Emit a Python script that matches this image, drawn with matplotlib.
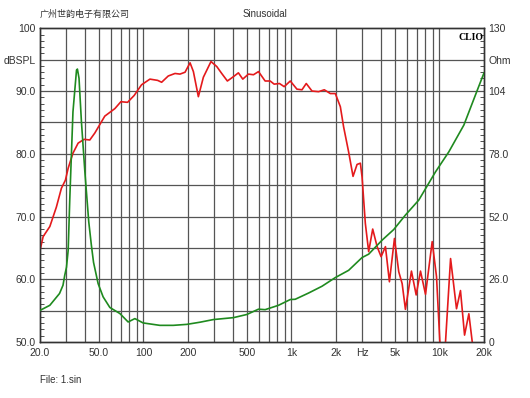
import numpy as np
import matplotlib
matplotlib.use('Agg')
import matplotlib.pyplot as plt
from matplotlib.ticker import FixedLocator, MultipleLocator, NullFormatter

# SPL response (red), dB
spl_freq = [20, 21, 23.3, 25.8, 27.9, 29.7, 31.0, 33.4, 36.2, 39.7, 43.4, 46.9,
            54.8, 64.1, 70.4, 78.1, 86.6, 97.1, 110.6, 124.7, 132.7, 147.1, 163.4,
            176.6, 191, 206.5, 217.5, 235, 254, 286, 313, 338, 369, 406, 438, 469,
            512, 554, 599, 664, 718, 764, 830, 893, 982, 1089, 1178, 1259, 1377,
            1525, 1667, 1831, 1979, 2140, 2251, 2434, 2607, 2775, 2922, 3000, 3157,
            3325, 3540, 3792, 4034, 4316, 4592, 4966, 5309, 5598, 5890, 6469, 6962,
            7446, 8051, 8931, 9555, 10050, 10550, 10990, 11890, 13040, 13870, 14780,
            15800, 16660, 17300]
spl_db = [64.6, 66.8, 68.4, 71.5, 74.5, 75.8, 77.7, 80.1, 81.7, 82.3, 82.2, 83.3,
          86.0, 87.2, 88.3, 88.2, 89.3, 91.0, 91.9, 91.7, 91.4, 92.4, 92.8,
          92.7, 93.0, 94.5, 93.1, 89.1, 92.2, 94.7, 93.9, 92.8, 91.6, 92.3, 92.9, 91.9,
          92.7, 92.6, 93.1, 91.6, 91.6, 91.1, 91.2, 90.7, 91.6, 90.3, 90.2, 91.2, 90.0,
          89.9, 90.2, 89.6, 89.6, 87.5, 84.3, 80.3, 76.4, 78.3, 78.5, 76.3, 68.9,
          64.4, 68.0, 65.2, 63.6, 65.2, 59.6, 66.5, 61.2, 59.3, 55.2, 61.3, 57.5,
          61.3, 57.6, 66.0, 60.4, 50.3, 46.0, 50.0, 63.3, 55.3, 58.2, 51.1,
          54.5, 50.0, 47.0]

# impedance (green), Ohm
imp_freq = [20, 23.3, 27.1, 28.6, 29.4, 30.2, 31.0, 31.8, 33.4, 35.3, 35.8, 36.7,
            38.1, 40.2, 42.7, 44.5, 46.0, 49.4, 53.4, 59.3, 69.3, 78.8, 87.5, 99.5,
            129, 159, 196, 241, 297, 406, 499, 599, 664, 817, 982, 1060, 1306, 1608,
            1979, 2434, 3000, 3325, 4096, 4909, 5890, 7248, 9404, 11570, 14620,
            18030, 20000]
imp_ohm = [13.1, 15.2, 20.1, 23.5, 27.7, 31.0, 38.0, 59.5, 95.4, 112.7, 113.1, 109.3,
           91.3, 70.5, 49.8, 40.0, 33.0, 24.2, 18.7, 14.3, 11.8, 8.3, 9.7, 7.9,
           6.9, 6.9, 7.3, 8.2, 9.3, 10.1, 11.4, 13.6, 13.4, 15.2, 17.6, 17.7, 20.3, 23.1,
           26.7, 29.7, 35.0, 36.4, 42.2, 46.6, 52.6, 58.8, 70.5, 78.8, 89.9,
           104.4, 111.5]

xtick_vals = [20, 50, 100, 200, 500, 1000, 2000, 3000, 5000, 10000, 20000]
xtick_labels = ['20.0', '50.0', '100', '200', '500', '1k', '2k', 'Hz', '5k', '10k', '20k']
ltick_vals = [50, 60, 70, 80, 90, 95, 100]
ltick_labels = ['50.0', '60.0', '70.0', '80.0', '90.0', 'dBSPL', '100']
rtick_vals = [0, 26, 52, 78, 104, 117, 130]
rtick_labels = ['0', '26.0', '52.0', '78.0', '104', 'Ohm', '130']

plt.rcParams['font.family'] = ['Liberation Sans', 'DejaVu Sans']
txt_col = '#333333'
grid_col = '#555555'

fig = plt.figure(figsize=(5.3, 3.98), dpi=100)
ax = fig.add_axes([40/530, 1-342/398, 444/530, 313.7/398])
ax.set_xscale('log')
ax.set_xlim(20, 20000)
ax.set_ylim(50, 100)

# grid
vlines = list(range(30, 100, 10)) + list(range(100, 1000, 100)) + \
    list(range(1000, 10000, 1000)) + [10000]
for v in vlines:
    ax.axvline(v, color=grid_col, lw=0.9, zorder=1)
for h in range(55, 100, 5):
    ax.axhline(h, color=grid_col, lw=0.9, zorder=1)

ax.plot(spl_freq, spl_db, color='#e41a1c', lw=1.2, zorder=3)

ax2 = ax.twinx()
ax2.set_ylim(0, 130)
ax2.plot(imp_freq, imp_ohm, color='#1f8a1f', lw=1.2, zorder=3)

ax.xaxis.set_major_locator(FixedLocator(xtick_vals))
ax.set_xticklabels(xtick_labels)
ax.xaxis.set_minor_formatter(NullFormatter())
ax.tick_params(axis='x', which='both', length=0, labelsize=7.5, colors=txt_col, pad=4)

ax.yaxis.set_major_locator(FixedLocator(ltick_vals))
ax.set_yticklabels(ltick_labels)
ax.yaxis.set_minor_locator(MultipleLocator(1))
ax.tick_params(axis='y', which='major', length=0, labelsize=7.5, colors=txt_col, pad=3)
ax.tick_params(axis='y', which='minor', direction='in', length=3, color='#333333')

ax2.yaxis.set_major_locator(FixedLocator(rtick_vals))
ax2.set_yticklabels(rtick_labels)
ax2.yaxis.set_minor_locator(MultipleLocator(2.6))
ax2.tick_params(axis='y', which='major', length=0, labelsize=7.5, colors=txt_col, pad=3)
ax2.tick_params(axis='y', which='minor', direction='in', length=3, color='#333333')

for a in (ax, ax2):
    for s in a.spines.values():
        s.set_color('#333333')
        s.set_linewidth(1.0)

ax2.text(0.998, 0.985, 'CLIO', transform=ax.transAxes, ha='right', va='top',
         fontsize=7, fontweight='bold', family=['Liberation Serif', 'DejaVu Serif'],
         color='black', zorder=5)

fig.text(40/530, 1-14/398, '广州世韵电子有限公司', ha='left', va='center',
         fontsize=6.5, color=txt_col, family=['Noto Sans CJK SC', 'DejaVu Sans'])
fig.text(265/530, 1-14/398, 'Sinusoidal', ha='center', va='center',
         fontsize=7, color=txt_col)
fig.text(40/530, 1-380/398, 'File: 1.sin', ha='left', va='center',
         fontsize=7, color=txt_col)

fig.savefig('out.png', dpi=100)
